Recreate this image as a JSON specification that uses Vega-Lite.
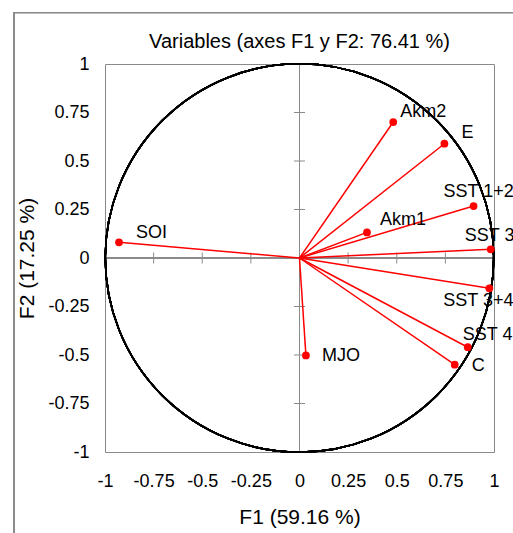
{
  "$schema": "https://vega.github.io/schema/vega-lite/v6.json",
  "width": 389,
  "height": 388,
  "autosize": {"type": "none"},
  "padding": {"left": 105, "top": 64, "right": 19, "bottom": 81},
  "background": "white",
  "config": {
    "view": {"stroke": "#8a8a8a", "strokeWidth": 1},
    "axis": {
      "domain": false,
      "ticks": false,
      "grid": false,
      "labelFlush": false,
      "labelFont": "Liberation Sans",
      "labelFontSize": 18,
      "labelColor": "black",
      "titleFont": "Liberation Sans",
      "titleFontSize": 21,
      "titleFontWeight": "normal",
      "titleColor": "black"
    }
  },
  "datasets": {
    "vars": [
      {"name": "SOI", "F1": -0.928, "F2": 0.081},
      {"name": "Akm2", "F1": 0.482, "F2": 0.701},
      {"name": "E", "F1": 0.745, "F2": 0.589},
      {"name": "SST 1+2", "F1": 0.895, "F2": 0.268},
      {"name": "Akm1", "F1": 0.347, "F2": 0.132},
      {"name": "SST 3", "F1": 0.983, "F2": 0.045},
      {"name": "SST 3+4", "F1": 0.976, "F2": -0.156},
      {"name": "SST 4", "F1": 0.865, "F2": -0.46},
      {"name": "C", "F1": 0.798, "F2": -0.55},
      {"name": "MJO", "F1": 0.033, "F2": -0.502}
    ],
    "ticks": [
      {"v": -0.75}, {"v": -0.5}, {"v": -0.25}, {"v": 0.25}, {"v": 0.5}, {"v": 0.75}
    ],
    "titles": [
      {"t": "Variables (axes F1 y F2: 76.41 %)"}
    ]
  },
  "data": {"name": "vars"},
  "layer": [
    {
      "mark": {"type": "rule", "color": "#ff0000", "strokeWidth": 1.5, "opacity": 0},
      "encoding": {
        "x": {
          "field": "F1",
          "type": "quantitative",
          "scale": {"domain": [-1, 1], "nice": false, "zero": false},
          "axis": {
            "values": [-1, -0.75, -0.5, -0.25, 0, 0.25, 0.5, 0.75, 1],
            "labelExpr": "replace(format(datum.value, '.2~f'), '−', '-')",
            "labelFlush": false,
            "title": "F1 (59.16 %)",
            "labelPadding": 20,
            "titlePadding": 16
          }
        },
        "y": {
          "field": "F2",
          "type": "quantitative",
          "scale": {"domain": [-1, 1], "nice": false, "zero": false},
          "axis": {
            "values": [-1, -0.75, -0.5, -0.25, 0, 0.25, 0.5, 0.75, 1],
            "labelExpr": "replace(format(datum.value, '.2~f'), '−', '-')",
            "labelFlush": false,
            "title": "F2 (17.25 %)",
            "labelPadding": 16,
            "titlePadding": 10
          }
        }
      }
    },
    {
      "mark": {"type": "rect", "fill": null, "fillOpacity": 0, "stroke": "#8a8a8a", "strokeWidth": 1},
      "encoding": {
        "x": {"datum": -1.468, "type": "quantitative"},
        "x2": {"datum": 1.3},
        "y": {"datum": 1.265, "type": "quantitative"},
        "y2": {"datum": -1.6}
      }
    },
    {
      "mark": {"type": "rule", "color": "#8a8a8a", "strokeWidth": 1},
      "encoding": {"y": {"datum": 0, "type": "quantitative"}}
    },
    {
      "mark": {"type": "rule", "color": "#8a8a8a", "strokeWidth": 1},
      "encoding": {"x": {"datum": 0, "type": "quantitative"}}
    },
    {
      "data": {"name": "ticks"},
      "mark": {"type": "tick", "orient": "vertical", "size": 11, "thickness": 1, "color": "#8a8a8a", "opacity": 1},
      "encoding": {
        "x": {"field": "v", "type": "quantitative"},
        "y": {"datum": 0, "type": "quantitative"}
      }
    },
    {
      "data": {"name": "ticks"},
      "mark": {"type": "tick", "orient": "horizontal", "size": 11, "thickness": 1, "color": "#8a8a8a", "opacity": 1},
      "encoding": {
        "y": {"field": "v", "type": "quantitative"},
        "x": {"datum": 0, "type": "quantitative"}
      }
    },
    {
      "mark": {"type": "point", "shape": "circle", "filled": false, "stroke": "black", "strokeWidth": 1.6, "opacity": 1},
      "encoding": {
        "x": {"datum": 0, "type": "quantitative"},
        "y": {"datum": 0, "type": "quantitative"},
        "size": {"value": 150900}
      }
    },
    {
      "mark": {"type": "rule", "color": "#ff0000", "strokeWidth": 1.5},
      "encoding": {
        "x": {"field": "F1", "type": "quantitative"},
        "y": {"field": "F2", "type": "quantitative"},
        "x2": {"datum": 0},
        "y2": {"datum": 0}
      }
    },
    {
      "mark": {"type": "point", "shape": "circle", "filled": true, "color": "#ff0000", "opacity": 1, "size": 60},
      "encoding": {
        "x": {"field": "F1", "type": "quantitative"},
        "y": {"field": "F2", "type": "quantitative"}
      }
    },
    {
      "data": {"name": "titles"},
      "mark": {"type": "text", "font": "Liberation Sans", "fontSize": 20, "align": "center", "baseline": "middle", "color": "black"},
      "encoding": {
        "x": {"datum": 0, "type": "quantitative"},
        "y": {"datum": 1.113, "type": "quantitative"},
        "text": {"field": "t"}
      }
    },
    {"transform": [{"filter": "datum.name == 'SOI'"}], "mark": {"type": "text", "font": "Liberation Sans", "fontSize": 18, "align": "left", "baseline": "middle", "color": "black", "dx": 17, "dy": -9}, "encoding": {"x": {"field": "F1", "type": "quantitative"}, "y": {"field": "F2", "type": "quantitative"}, "text": {"field": "name"}}},
    {"transform": [{"filter": "datum.name == 'Akm2'"}], "mark": {"type": "text", "font": "Liberation Sans", "fontSize": 18, "align": "left", "baseline": "middle", "color": "black", "dx": 7, "dy": -10}, "encoding": {"x": {"field": "F1", "type": "quantitative"}, "y": {"field": "F2", "type": "quantitative"}, "text": {"field": "name"}}},
    {"transform": [{"filter": "datum.name == 'E'"}], "mark": {"type": "text", "font": "Liberation Sans", "fontSize": 18, "align": "left", "baseline": "middle", "color": "black", "dx": 17, "dy": -11}, "encoding": {"x": {"field": "F1", "type": "quantitative"}, "y": {"field": "F2", "type": "quantitative"}, "text": {"field": "name"}}},
    {"transform": [{"filter": "datum.name == 'SST 1+2'"}], "mark": {"type": "text", "font": "Liberation Sans", "fontSize": 18, "align": "left", "baseline": "middle", "color": "black", "dx": -30, "dy": -14}, "encoding": {"x": {"field": "F1", "type": "quantitative"}, "y": {"field": "F2", "type": "quantitative"}, "text": {"field": "name"}}},
    {"transform": [{"filter": "datum.name == 'Akm1'"}], "mark": {"type": "text", "font": "Liberation Sans", "fontSize": 18, "align": "left", "baseline": "middle", "color": "black", "dx": 13, "dy": -12}, "encoding": {"x": {"field": "F1", "type": "quantitative"}, "y": {"field": "F2", "type": "quantitative"}, "text": {"field": "name"}}},
    {"transform": [{"filter": "datum.name == 'SST 3'"}], "mark": {"type": "text", "font": "Liberation Sans", "fontSize": 18, "align": "left", "baseline": "middle", "color": "black", "dx": -26, "dy": -13}, "encoding": {"x": {"field": "F1", "type": "quantitative"}, "y": {"field": "F2", "type": "quantitative"}, "text": {"field": "name"}}},
    {"transform": [{"filter": "datum.name == 'SST 3+4'"}], "mark": {"type": "text", "font": "Liberation Sans", "fontSize": 18, "align": "left", "baseline": "middle", "color": "black", "dx": -46, "dy": 13}, "encoding": {"x": {"field": "F1", "type": "quantitative"}, "y": {"field": "F2", "type": "quantitative"}, "text": {"field": "name"}}},
    {"transform": [{"filter": "datum.name == 'SST 4'"}], "mark": {"type": "text", "font": "Liberation Sans", "fontSize": 18, "align": "left", "baseline": "middle", "color": "black", "dx": -5, "dy": -12}, "encoding": {"x": {"field": "F1", "type": "quantitative"}, "y": {"field": "F2", "type": "quantitative"}, "text": {"field": "name"}}},
    {"transform": [{"filter": "datum.name == 'C'"}], "mark": {"type": "text", "font": "Liberation Sans", "fontSize": 18, "align": "left", "baseline": "middle", "color": "black", "dx": 17, "dy": 1}, "encoding": {"x": {"field": "F1", "type": "quantitative"}, "y": {"field": "F2", "type": "quantitative"}, "text": {"field": "name"}}},
    {"transform": [{"filter": "datum.name == 'MJO'"}], "mark": {"type": "text", "font": "Liberation Sans", "fontSize": 18, "align": "left", "baseline": "middle", "color": "black", "dx": 16, "dy": 1}, "encoding": {"x": {"field": "F1", "type": "quantitative"}, "y": {"field": "F2", "type": "quantitative"}, "text": {"field": "name"}}}
  ]
}
